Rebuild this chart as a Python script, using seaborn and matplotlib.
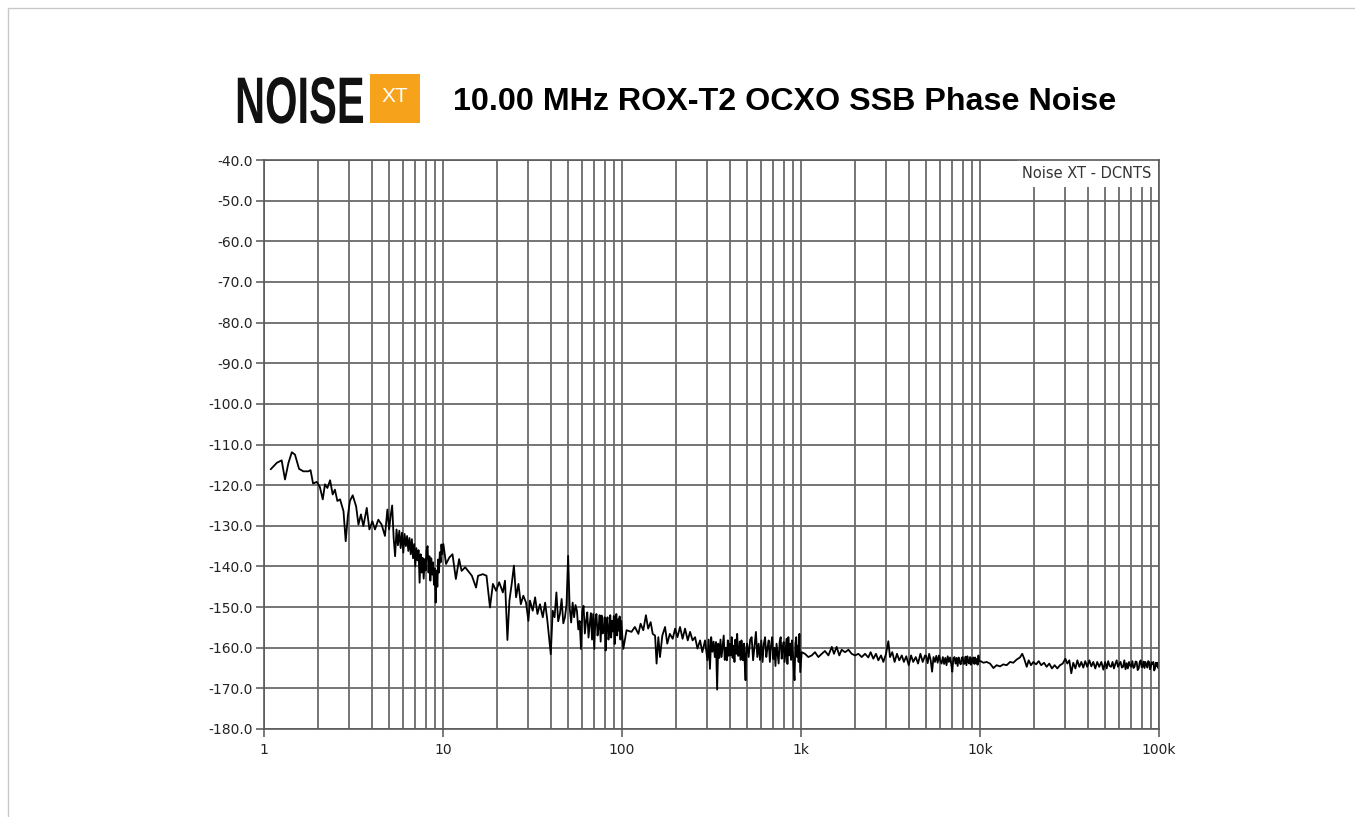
import numpy as np
import pandas as pd
import matplotlib
import matplotlib.pyplot as plt
import seaborn as sns
from matplotlib import patheffects
from matplotlib.ticker import FixedLocator, LogLocator, NullFormatter
from matplotlib.patches import Rectangle
from matplotlib.lines import Line2D
from matplotlib.transforms import Affine2D

matplotlib.use("Agg")

# SSB phase noise trace (offset in Hz, level in dBc/Hz)
freq_1_10 = [1.09, 1.18, 1.255, 1.31, 1.37, 1.43, 1.49, 1.57, 1.66, 1.77, 1.82, 1.88, 1.97,
             2.05, 2.13, 2.19, 2.26, 2.34, 2.42, 2.49, 2.57, 2.66, 2.78, 2.86, 2.94, 3.02,
             3.13, 3.27, 3.37, 3.48, 3.59, 3.75, 3.88, 4.03, 4.17, 4.35, 4.54, 4.74, 4.89,
             5.0, 5.1, 5.2, 5.3, 5.4, 5.5, 5.6, 5.7, 5.8, 5.9, 6.0, 6.1, 6.2, 6.3, 6.4, 6.5,
             6.6, 6.7, 6.8, 6.9, 7.0, 7.1, 7.2, 7.3, 7.4, 7.5, 7.6, 7.7, 7.8, 7.9, 8.0, 8.1,
             8.2, 8.3, 8.4, 8.5, 8.6, 8.7, 8.8, 8.9, 9.0, 9.1, 9.2, 9.3, 9.4, 9.5, 9.6, 9.7,
             9.8, 9.9]
level_1_10 = [-116.1, -114.5, -113.9, -118.6, -114.5, -111.9, -112.5, -116.0, -116.6, -116.6,
              -116.3, -119.6, -119.2, -120.4, -123.5, -119.8, -120.7, -118.8, -122.3, -121.1,
              -123.9, -123.5, -126.4, -133.8, -127.6, -123.9, -122.5, -125.2, -129.7, -127.2,
              -130.1, -125.6, -130.9, -128.9, -130.9, -128.5, -129.7, -132.5, -126.0,
              -130.9, -127.5, -125.0, -133.0, -137.5, -130.9, -134.8, -131.2, -135.5, -131.7,
              -136.6, -132.0, -135.0, -132.5, -136.2, -133.0, -137.0, -133.3, -138.0, -134.5,
              -140.0, -135.5, -138.5, -136.0, -144.0, -137.0, -141.5, -137.9, -143.0, -138.2,
              -141.0, -136.0, -135.0, -141.5, -137.5, -143.5, -138.0, -142.0, -139.0, -144.5,
              -140.5, -148.9, -141.0, -145.0, -138.3, -141.5, -136.5, -139.0, -134.6, -137.0]

freq_10_100 = [10.05, 10.4, 10.85, 11.3, 11.8, 12.3, 12.7, 13.3, 13.8, 14.5, 15.3, 15.7, 16.7,
               17.5, 18.3, 19.0, 19.8, 20.6, 21.6, 22.2, 22.9, 23.5, 24.2, 24.9, 25.6, 26.4,
               27.2, 28.1, 29.1, 30.0, 30.6, 31.7, 32.7, 33.7, 34.8, 36.1, 37.2, 38.3,
               40, 41, 42, 43, 44, 45, 46, 47, 48, 49, 50, 51, 52, 53, 54, 55, 56, 57, 58, 59,
               60, 61, 62, 63, 64, 65, 66, 67, 68, 69, 70, 71, 72, 73, 74, 75, 76, 77, 78, 79,
               80, 81, 82, 83, 84, 85, 86, 87, 88, 89, 90, 91, 92, 93, 94, 95, 96, 97, 98, 99]
level_10_100 = [-134.5, -139.4, -137.8, -137.0, -143.1, -138.2, -141.1, -140.2, -141.1, -142.3,
                -145.2, -142.3, -141.9, -142.3, -150.1, -144.3, -146.0, -143.9, -146.4, -143.5,
                -158.1, -148.4, -144.3, -139.8, -147.6, -144.3, -149.3, -147.2, -148.9, -153.4,
                -148.4, -150.9, -147.6, -151.7, -149.3, -152.5, -148.9, -153.4,
                -161.6, -150.9, -152.5, -146.4, -153.5, -151.7, -148.0, -154.0, -152.5, -149.3,
                -137.4, -150.1, -153.8, -148.9, -152.5, -149.5, -150.9, -155.5, -153.4, -160.3,
                -151.0, -149.7, -156.5, -153.4, -151.3, -157.5, -154.2, -151.5, -158.0, -151.7,
                -160.3, -153.0, -151.7, -157.0, -155.0, -152.0, -158.5, -152.1, -156.5, -155.8,
                -152.5, -160.7, -154.0, -152.5, -158.0, -155.8, -152.0, -157.5, -153.4, -156.0,
                -152.2, -159.1, -154.5, -151.7, -157.0, -153.0, -155.8, -152.3, -158.0, -153.4]

freq_100_1k = [101.7, 106, 113, 118, 123.5, 127, 131.5, 136, 140, 144.6, 148.5, 153, 156, 159.6,
               163, 168, 174, 179, 185, 192, 198, 204, 211, 218, 225, 233, 240, 248, 256, 264,
               273, 281, 291,
               300, 305, 310, 315, 320, 325, 330, 335, 340, 345, 350, 355, 360, 365, 370, 375,
               380, 385, 390, 395, 400, 405, 410, 415, 420, 425, 430, 435, 440, 445, 450, 455,
               460, 465, 470, 475, 480, 485, 490, 495,
               500, 510, 520, 530, 540, 550, 560, 570, 580, 590, 600, 610, 620, 630, 640, 650,
               660, 670, 680, 690, 700, 710, 720, 730, 740, 750, 760, 770, 780, 790, 800, 810,
               820, 830, 840, 850, 860, 870, 880, 890, 900, 910, 920, 930, 940, 950, 960, 970,
               980, 990]
level_100_1k = [-160.3, -155.7, -156.1, -154.9, -156.6, -154.1, -155.7, -152.0, -155.3, -153.7,
                -156.6, -157.0, -163.9, -157.4, -162.3, -157.0, -154.9, -159.0, -156.6, -157.8,
                -155.3, -157.4, -154.9, -157.8, -155.3, -158.2, -156.1, -158.2, -157.4, -160.2,
                -158.2, -161.1, -158.2,
                -163.1, -158.0, -165.2, -157.4, -161.0, -158.5, -162.3, -158.6, -170.3, -159.0,
                -162.5, -158.0, -162.3, -159.5, -157.0, -163.0, -160.0, -163.1, -158.2, -162.0,
                -159.0, -161.9, -157.4, -162.5, -159.5, -163.5, -158.0, -161.5, -156.6, -162.0,
                -161.9, -158.5, -163.0, -158.2, -161.0, -163.1, -159.0, -164.0, -168.0, -160.0,
                -159.0, -162.3, -158.0, -157.4, -163.1, -159.5, -156.1, -162.3, -159.0, -163.0,
                -158.2, -163.5, -159.0, -157.4, -162.3, -160.0, -158.2, -163.5, -159.5, -157.4,
                -162.8, -160.0, -164.5, -159.0, -161.5, -163.9, -158.5, -157.4, -162.7, -160.0,
                -158.6, -163.5, -160.5, -157.8, -164.0, -157.4, -161.9, -159.0, -163.0, -158.2,
                -161.0, -165.0, -168.0, -159.0, -157.4, -162.3, -159.5, -163.5, -156.6, -166.0]

freq_1k_10k = [1009, 1052, 1099, 1148, 1197, 1250, 1306, 1361, 1422, 1486, 1528, 1581, 1637,
               1687, 1762, 1841, 1919, 2004, 2094, 2183, 2280, 2377, 2449, 2535, 2624, 2704,
               2799, 2884, 2985, 3076, 3141, 3236, 3334, 3436, 3540, 3656, 3758, 3873, 3999,
               4121, 4236, 4375, 4508, 4645, 4786, 4932,
               5000, 5100, 5200, 5300, 5400, 5500, 5600, 5700, 5800, 5900, 6000, 6100, 6200,
               6300, 6400, 6500, 6600, 6700, 6800, 6900, 7000, 7100, 7200, 7300, 7400, 7500,
               7600, 7700, 7800, 7900, 8000, 8100, 8200, 8300, 8400, 8500, 8600, 8700, 8800,
               8900, 9000, 9100, 9200, 9300, 9400, 9500, 9600, 9700, 9800, 9900]
level_1k_10k = [-161.1, -161.5, -162.3, -161.9, -161.1, -162.3, -161.5, -160.8, -161.9, -159.8,
                -161.5, -159.8, -161.9, -160.5, -161.1, -160.5, -161.5, -161.9, -161.5, -162.3,
                -161.5, -162.4, -161.1, -162.7, -161.5, -163.1, -161.9, -163.5, -161.5, -158.4,
                -162.3, -161.1, -163.5, -161.5, -163.1, -161.9, -163.5, -162.1, -164.3, -161.9,
                -163.5, -162.3, -163.9, -161.5, -163.5, -161.9,
                -162.0, -163.8, -161.5, -163.0, -165.9, -162.3, -163.5, -162.0, -163.7, -161.9,
                -163.2, -163.9, -162.3, -164.0, -162.5, -164.3, -162.1, -163.5, -162.4, -163.9,
                -165.9, -162.6, -162.3, -163.9, -162.5, -164.5, -162.4, -163.6, -164.1, -162.5,
                -162.3, -164.0, -163.9, -162.2, -164.3, -162.1, -163.5, -163.9, -162.3, -164.2,
                -162.6, -163.7, -162.4, -164.0, -162.4, -163.9, -162.8, -164.2, -161.9, -163.4]

freq_10k_100k = [10093, 10447, 10889, 11376, 11885, 12388, 12942, 13490, 14093, 14723, 15346,
                 16032, 16711, 17219, 17660, 18239, 18707, 19275, 19861, 20559, 21281, 21979,
                 22803, 23550, 24378, 25235, 26122, 27040, 27990, 28973, 29992, 30761, 31550,
                 32359, 33189, 34119, 34995, 35892, 36813, 37757, 38726, 39719, 40832, 41879,
                 42954, 44055, 45186, 46345, 47643, 48865,
                 50000, 51000, 52000, 53000, 54000, 55000, 56000, 57000, 58000, 59000, 60000,
                 61000, 62000, 63000, 64000, 65000, 66000, 67000, 68000, 69000, 70000, 71000,
                 72000, 73000, 74000, 75000, 76000, 77000, 78000, 79000, 80000, 81000, 82000,
                 83000, 84000, 85000, 86000, 87000, 88000, 89000, 90000, 91000, 92000, 93000,
                 94000, 95000, 96000, 97000, 98000, 99000, 100000]
level_10k_100k = [-163.3, -163.7, -163.5, -163.9, -165.0, -164.3, -164.6, -164.1, -164.3, -163.5,
                  -163.7, -162.9, -162.4, -161.5, -162.7, -164.7, -163.1, -164.3, -163.5, -164.1,
                  -163.3, -164.3, -163.7, -164.7, -163.9, -165.1, -164.3, -165.1, -164.3, -163.9,
                  -162.7, -163.9, -163.1, -166.3, -163.7, -165.1, -163.1, -164.7, -163.5, -164.9,
                  -163.3, -164.7, -163.1, -164.6, -163.5, -165.1, -163.5, -164.7, -163.5, -165.4,
                  -163.5, -165.1, -163.3, -164.5, -164.7, -163.5, -165.1, -164.0, -163.1, -164.7,
                  -164.0, -163.5, -164.9, -164.7, -163.1, -165.3, -163.8, -165.1, -163.5, -164.4,
                  -164.7, -163.3, -165.0, -164.7, -163.4, -163.5, -165.5, -165.1, -163.6, -163.1,
                  -164.8, -164.7, -163.4, -165.0, -163.5, -164.2, -164.9, -163.3, -163.5, -165.3,
                  -164.7, -163.6, -164.0, -163.5, -165.6, -165.1, -163.7, -164.5, -163.7, -165.0,
                  -164.3]

x_ticks = [1, 10, 100, 1000, 10000, 100000]
x_labels = ["1", "10", "100", "1k", "10k", "100k"]
y_ticks = [-180, -170, -160, -150, -140, -130, -120, -110, -100, -90, -80, -70, -60, -50, -40]

df = pd.DataFrame({
    "offset_hz": freq_1_10 + freq_10_100 + freq_100_1k + freq_1k_10k + freq_10k_100k,
    "level_dbc": level_1_10 + level_10_100 + level_100_1k + level_1k_10k + level_10k_100k,
})


class Stretch(patheffects.AbstractPathEffect):
    """Draw text glyphs taller than wide, to imitate the condensed logo face."""

    def __init__(self, sx, sy=1.0):
        super().__init__()
        self.sx, self.sy = sx, sy

    def draw_path(self, renderer, gc, tpath, affine, rgbFace=None):
        renderer.draw_path(gc, tpath, Affine2D().scale(self.sx, self.sy) + affine, rgbFace)


sns.set_theme(style="white")
plt.rcParams["font.family"] = ["DejaVu Sans"]

fig = plt.figure(figsize=(13.55, 8.17), dpi=100)
fig.patch.set_facecolor("white")

# thin grey frame round the picture
fig.add_artist(Line2D([8 / 1355, 1], [1 - 8 / 817, 1 - 8 / 817], color="#c8c8c8", lw=1))
fig.add_artist(Line2D([8 / 1355, 8 / 1355], [0, 1 - 8 / 817], color="#c8c8c8", lw=1))

ax = fig.add_axes([264 / 1355, 1 - 729 / 817, 895 / 1355, 569 / 817])
sns.lineplot(data=df, x="offset_hz", y="level_dbc", color="black", lw=1.3,
             estimator=None, ax=ax, zorder=3)

ax.set_xscale("log")
ax.set_xlim(1, 1e5)
ax.set_ylim(-180, -40)
ax.xaxis.set_major_locator(FixedLocator(x_ticks))
ax.set_xticklabels(x_labels)
ax.xaxis.set_minor_locator(LogLocator(base=10, subs=range(2, 10)))
ax.xaxis.set_minor_formatter(NullFormatter())
ax.set_yticks(y_ticks)
ax.set_yticklabels([f"{v:.1f}" for v in y_ticks])
ax.set_xlabel("")
ax.set_ylabel("")

ax.grid(which="both", axis="both", color="#6a6a6a", lw=1.3)
ax.tick_params(axis="x", which="major", bottom=True, length=6, width=1.1, color="#555555",
               labelsize=10, labelcolor="#222222", pad=4)
ax.tick_params(axis="x", which="minor", bottom=False, length=0)
ax.tick_params(axis="y", left=True, length=6, width=1.1, color="#555555",
               labelsize=10, labelcolor="#222222", pad=2)
for s in ax.spines.values():
    s.set_color("#5a5a5a")
    s.set_linewidth(1.2)
    s.set_zorder(5)

ax.text(0.992, 0.976, "Noise XT - DCNTS", transform=ax.transAxes, ha="right", va="center",
        fontsize=10.5, color="#333333", zorder=4,
        bbox=dict(facecolor="white", edgecolor="none", pad=4.2))

# logo and title
fig.text(235 / 1355, 1 - 123 / 817, "NOISE", family="Liberation Sans", weight="bold",
         fontsize=30, color="#111111", ha="left", va="baseline",
         path_effects=[Stretch(1.0, 1.58)])
fig.add_artist(Rectangle((370 / 1355, 1 - 123 / 817), 50 / 1355, 49 / 817,
                         transform=fig.transFigure, facecolor="#f7a21b", edgecolor="none"))
fig.text(395 / 1355, 1 - 97 / 817, "XT", family="Liberation Sans", fontsize=15,
         color="white", ha="center", va="center")
fig.text(453 / 1355, 1 - 102 / 817, "10.00 MHz ROX-T2 OCXO SSB Phase Noise",
         family="Liberation Sans", weight="bold", fontsize=23.2, color="black",
         ha="left", va="center")

fig.savefig("out.png", dpi=100, facecolor="white")
